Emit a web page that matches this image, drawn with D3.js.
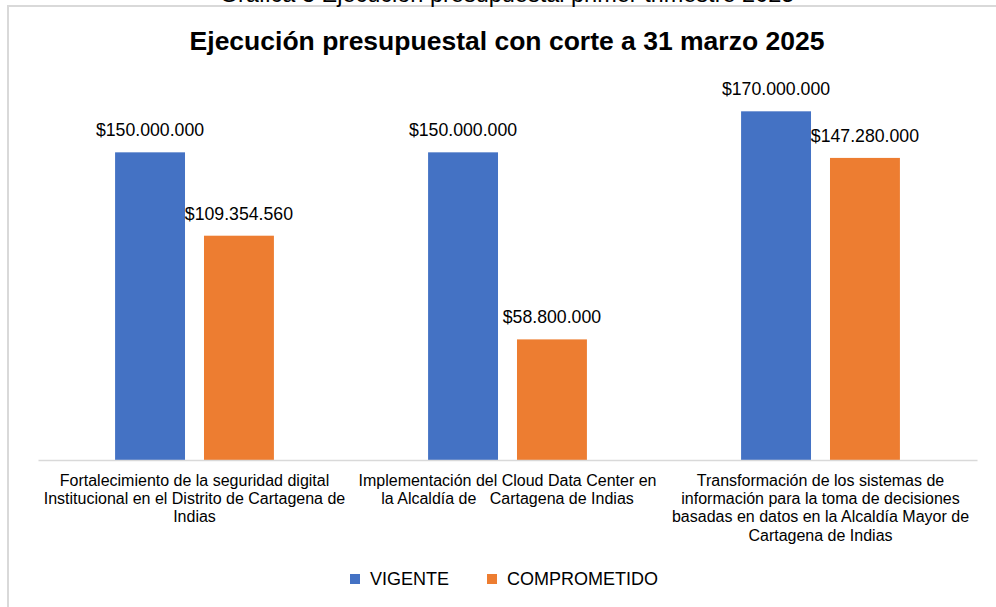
<!DOCTYPE html>
<html>
<head>
<meta charset="utf-8">
<script src="https://cdn.jsdelivr.net/npm/d3@7"></script>
<style>
  html, body { margin: 0; padding: 0; background: #ffffff; }
  svg { display: block; font-family: "Liberation Sans", Arial, sans-serif; }
</style>
</head>
<body>
<svg id="chart" width="996" height="607"></svg>
<script>
const captionText = "Gráfica 3 Ejecución presupuestal primer trimestre 2025";
const titleText = "Ejecución presupuestal con corte a 31 marzo 2025";
const categories = ["cat1", "cat2", "cat3"];
const categoryLabels = [
  ["Fortalecimiento de la seguridad digital", "Institucional en el Distrito de Cartagena de", "Indias"],
  ["Implementación del Cloud Data Center en", "la Alcaldía de   Cartagena de Indias"],
  ["Transformación de los sistemas de", "información para la toma de decisiones", "basadas en datos en la Alcaldía Mayor de", "Cartagena de Indias"]
];
const seriesNames = ["VIGENTE", "COMPROMETIDO"];
const vigente = [150000000, 150000000, 170000000];
const comprometido = [109354560, 58800000, 147280000];
const seriesColors = ["#4472C4", "#ED7D31"];
const yMax = 180000000;

const svg = d3.select("#chart");
const W = 996, H = 607;

// chart area border
svg.append("rect")
  .attr("x", 8).attr("y", 6)
  .attr("width", W + 20).attr("height", H + 20)
  .attr("fill", "#ffffff")
  .attr("stroke", "#d9d9d9").attr("stroke-width", 2);

// cut-off caption above
svg.append("text")
  .attr("x", 507).attr("y", 1.5)
  .attr("text-anchor", "middle")
  .attr("font-size", "23.5px")
  .attr("fill", "#000")
  .text(captionText);

// title
svg.append("text")
  .attr("x", 507).attr("y", 49.5)
  .attr("text-anchor", "middle")
  .attr("font-size", "26.5px")
  .attr("font-weight", "bold")
  .attr("fill", "#000")
  .text(titleText);

const plotLeft = 38, plotRight = 977, plotTop = 90.8, plotBottom = 460;

const x0 = d3.scaleBand().domain(categories).range([plotLeft, plotRight]).paddingInner(0).paddingOuter(0);
const x1 = d3.scaleBand().domain(seriesNames).range([0, x0.bandwidth()])
  .paddingInner(0.2135).paddingOuter(0.867);
const y = d3.scaleLinear().domain([0, yMax]).range([plotBottom, plotTop]);

const locale = d3.formatLocale({decimal: ",", thousands: ".", grouping: [3], currency: ["$", ""]});
const fmt = locale.format("$,.0f");

const data = categories.map((c, i) => ({
  cat: c,
  values: [
    {s: seriesNames[0], v: vigente[i], color: seriesColors[0]},
    {s: seriesNames[1], v: comprometido[i], color: seriesColors[1]}
  ]
}));

const groups = svg.append("g").selectAll("g")
  .data(data).join("g")
  .attr("transform", d => `translate(${x0(d.cat)},0)`);

groups.selectAll("rect")
  .data(d => d.values).join("rect")
  .attr("x", d => x1(d.s))
  .attr("y", d => y(d.v))
  .attr("width", x1.bandwidth())
  .attr("height", d => y(0) - y(d.v))
  .attr("fill", d => d.color);

groups.selectAll("text.lbl")
  .data(d => d.values).join("text")
  .attr("class", "lbl")
  .attr("x", d => x1(d.s) + x1.bandwidth() / 2)
  .attr("y", d => y(d.v) - 16)
  .attr("text-anchor", "middle")
  .attr("font-size", "17.7px")
  .attr("fill", "#000")
  .text(d => fmt(d.v));

// axis line
const xAxis = d3.axisBottom(x0).tickSize(0).tickFormat("");
const axisG = svg.append("g").attr("transform", `translate(0,${plotBottom})`).call(xAxis);
axisG.select(".domain").attr("stroke", "#d9d9d9").attr("stroke-width", 1.5);

// category labels
categories.forEach((c, i) => {
  const t = svg.append("text")
    .attr("text-anchor", "middle")
    .attr("font-size", "16px")
    .attr("fill", "#000")
    .style("white-space", "pre");
  categoryLabels[i].forEach((line, j) => {
    t.append("tspan")
      .attr("x", x0(c) + x0.bandwidth() / 2)
      .attr("y", 485.5 + j * 18.4)
      .text(line);
  });
});

// legend
const legendItems = [
  {name: seriesNames[0], color: seriesColors[0], x: 350},
  {name: seriesNames[1], color: seriesColors[1], x: 487}
];
const lg = svg.append("g");
legendItems.forEach(d => {
  lg.append("rect").attr("x", d.x).attr("y", 574).attr("width", 10).attr("height", 10).attr("fill", d.color);
  lg.append("text").attr("x", d.x + 20).attr("y", 585)
    .attr("font-size", "18px").attr("fill", "#000").text(d.name);
});
</script>
</body>
</html>
